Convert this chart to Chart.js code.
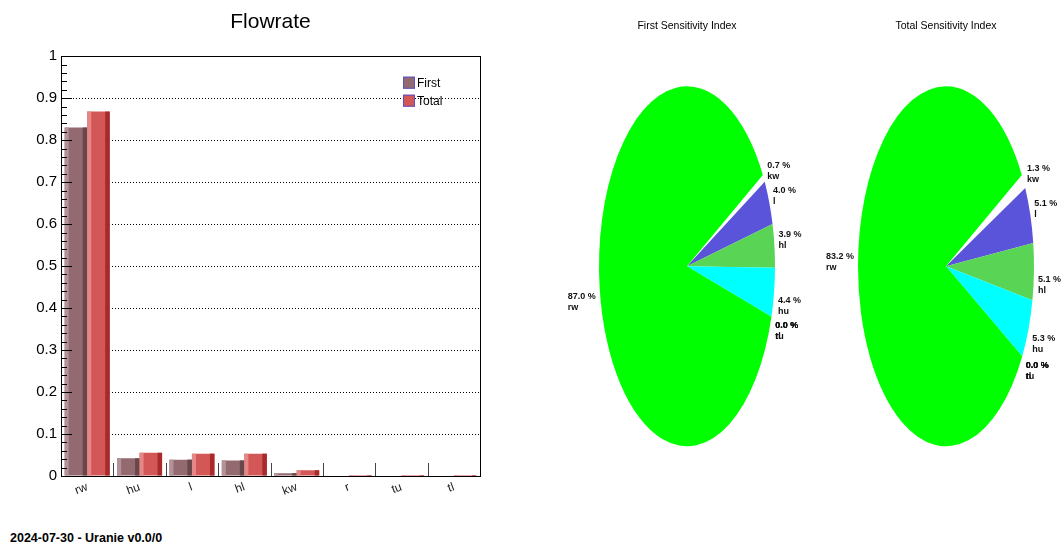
<!DOCTYPE html>
<html>
<head>
<meta charset="utf-8">
<script src="https://cdn.jsdelivr.net/npm/chart.js@4.4.0/dist/chart.umd.min.js"></script>
<style>
  body { margin: 0; width: 1064px; height: 544px; background: #fff; overflow: hidden; position: relative; }
  canvas { position: absolute; top: 0; }
  #bars { left: 0; }
  #pie1 { left: 537px; }
  #pie2 { left: 796px; }
  #stamp { position: absolute; left: 10px; top: 531px; font: bold 12.5px "Liberation Sans", Arial, sans-serif; color: #000; }
</style>
</head>
<body>
<canvas id="bars" width="541" height="506"></canvas>
<canvas id="pie1" width="300" height="500"></canvas>
<canvas id="pie2" width="300" height="500"></canvas>
<div id="stamp">2024-07-30 - Uranie v0.0/0</div>
<script>
// bar chart values (sensitivity indices)
var categories = ["rw", "hu", "l", "hl", "kw", "r", "tu", "tl"];
var firstIdx = [0.830, 0.042, 0.039, 0.037, 0.0067, 0, 0, 0];
var totalIdx = [0.868, 0.0553, 0.0532, 0.0532, 0.0136, 0, 0, 0];
var yTickValues = [0, 0.1, 0.2, 0.3, 0.4, 0.5, 0.6, 0.7, 0.8, 0.9, 1];

// pie slices, in drawing order
var pieLabels = ["kw", "l", "hl", "hu", "r", "tu", "tl", "rw"];
var firstPct = [0.7, 4.0, 3.9, 4.4, 0.0, 0.0, 0.0, 87.0];
var totalPct = [1.3, 5.1, 5.1, 5.3, 0.0, 0.0, 0.0, 83.2];
var pieColors = ["#fefefe", "#5954d9", "#59d454", "#00ffff", "#c2bfa8", "#4c4c4c", "#666666", "#00ff00"];
var pieOffset = [6, 0, 0, 0, 0, 0, 0, 0];

Chart.defaults.font.family = '"Liberation Sans", Arial, Helvetica, sans-serif';
Chart.defaults.color = "#000";

// light/dark side strips on the bars, like the ROOT 3D bars
var barShade = {
    id: "barShade",
    afterDatasetsDraw: function (chart) {
        var ctx = chart.ctx;
        chart.data.datasets.forEach(function (ds, di) {
            chart.getDatasetMeta(di).data.forEach(function (bar) {
                var p = bar.getProps(["x", "y", "base", "width"], true);
                var left = p.x - p.width / 2;
                var h = p.base - p.y;
                if (h <= 0) return;
                ctx.fillStyle = ds.lightColor;
                ctx.fillRect(left, p.y, p.width * 0.18, h);
                ctx.fillStyle = ds.darkColor;
                ctx.fillRect(left + p.width * 0.8, p.y, p.width * 0.2, h);
            });
        });
    }
};

// frame, inner ticks and legend
var frame = {
    id: "frame",
    afterDraw: function (chart) {
        var ctx = chart.ctx;
        var a = chart.chartArea;
        var ys = chart.scales.y, xs = chart.scales.x;
        ctx.save();
        ctx.strokeStyle = "#000";
        ctx.lineWidth = 1;
        ctx.strokeRect(Math.round(a.left) + 0.5, Math.round(a.top) + 0.5,
            Math.round(a.right - a.left), Math.round(a.bottom - a.top));

        ctx.beginPath();
        for (var i = 0; i <= 50; i++) {
            var py = Math.round(ys.getPixelForValue(i / 50)) + 0.5;
            var len = (i % 5 === 0) ? 11 : 6;
            ctx.moveTo(a.left, py);
            ctx.lineTo(a.left + len, py);
        }
        ctx.stroke();

        var half = (xs.getPixelForValue(1) - xs.getPixelForValue(0)) / 2;
        ctx.strokeStyle = "#444";
        ctx.beginPath();
        for (var j = 1; j < categories.length; j++) {
            var px = Math.round(xs.getPixelForValue(j) - half) + 0.5;
            ctx.moveTo(px, a.bottom);
            ctx.lineTo(px, a.bottom - 13);
        }
        ctx.stroke();

        // legend
        ctx.font = '12px "Liberation Sans", Arial, sans-serif';
        ctx.textBaseline = "middle";
        ctx.textAlign = "left";
        chart.data.datasets.forEach(function (ds, k) {
            var bx = a.right - 77, by = a.top + 20.5 + k * 18;
            ctx.fillStyle = ds.backgroundColor;
            ctx.fillRect(bx, by, 12, 12);
            ctx.strokeStyle = "#5a50c8";
            ctx.strokeRect(bx + 0.5, by + 0.5, 11, 11);
            ctx.fillStyle = "#000";
            ctx.fillText(ds.label, bx + 14, by + 7);
        });
        ctx.restore();
    }
};

new Chart(document.getElementById("bars"), {
    type: "bar",
    data: {
        labels: categories,
        datasets: [{
            label: "First",
            data: firstIdx,
            backgroundColor: "#946a71",
            lightColor: "#b3939a",
            darkColor: "#684649",
            borderWidth: 0,
            barPercentage: 1,
            categoryPercentage: 0.86
        }, {
            label: "Total",
            data: totalIdx,
            backgroundColor: "#d45757",
            lightColor: "#e68787",
            darkColor: "#a82a2a",
            borderWidth: 0,
            minBarLength: 1,
            barPercentage: 1,
            categoryPercentage: 0.86
        }]
    },
    options: {
        responsive: false,
        animation: false,
        events: [],
        layout: { padding: { left: 0, right: 61, top: 0, bottom: 0 } },
        scales: {
            x: {
                grid: { display: false },
                border: { display: false },
                ticks: {
                    font: { size: 12 },
                    color: "#222",
                    minRotation: 20,
                    maxRotation: 20,
                    padding: -4
                },
                afterFit: function (s) { s.height = 30; }
            },
            y: {
                min: 0,
                max: 1,
                afterBuildTicks: function (s) {
                    s.ticks = yTickValues.map(function (v) { return { value: v }; });
                },
                grid: { color: "#000", lineWidth: 1, drawTicks: false },
                border: { display: false, dash: [1, 2] },
                ticks: {
                    font: { size: 15 },
                    color: "#000",
                    padding: 4,
                    callback: function (v) { return String(Math.round(v * 10) / 10); }
                },
                afterFit: function (s) { s.width = 61; }
            }
        },
        plugins: {
            legend: { display: false },
            tooltip: { enabled: false },
            title: {
                display: true,
                fullSize: false,
                text: "Flowrate",
                font: { size: 21, weight: "normal" },
                color: "#000",
                padding: { top: 10, bottom: 21 }
            }
        }
    },
    plugins: [barShade, frame]
});

// stretch the pie into an ellipse, then write the percent labels
var ellipse = {
    id: "ellipse",
    beforeDatasetsDraw: function (chart, args, opts) {
        var arc = chart.getDatasetMeta(0).data[0];
        var ctx = chart.ctx;
        ctx.save();
        ctx.translate(arc.x, arc.y);
        ctx.scale(1, opts.stretch);
        ctx.translate(-arc.x, -arc.y);
    },
    afterDatasetsDraw: function (chart, args, opts) {
        var ctx = chart.ctx;
        ctx.restore();
        var ds = chart.data.datasets[0];
        var sum = ds.data.reduce(function (a, b) { return a + b; }, 0);
        ctx.save();
        ctx.font = 'bold 9px "Liberation Sans", Arial, sans-serif';
        ctx.fillStyle = "#111";
        ctx.textBaseline = "middle";
        ctx.textAlign = "left";
        chart.getDatasetMeta(0).data.forEach(function (el, i) {
            var p = el.getProps(["x", "y", "startAngle", "endAngle", "outerRadius"], true);
            var mid = (p.startAngle + p.endAngle) / 2;
            var c = Math.cos(mid), s = Math.sin(mid);
            var top = (ds.data[i] / sum * 100).toFixed(1) + " %";
            var name = chart.data.labels[i];
            var lx = p.x + (p.outerRadius + 4) * c;
            var ly = p.y + (p.outerRadius * opts.stretch + 4) * s + (s > 0.02 ? 13 : -5);
            if (c < 0) {
                lx -= Math.max(ctx.measureText(top).width, ctx.measureText(name).width);
            }
            ctx.fillText(top, lx, ly - 5.5);
            ctx.fillText(name, lx, ly + 5.5);
        });
        ctx.restore();
    }
};

function makePie(id, title, values) {
    return new Chart(document.getElementById(id), {
        type: "pie",
        data: {
            labels: pieLabels,
            datasets: [{
                data: values,
                backgroundColor: pieColors,
                borderWidth: 0,
                offset: pieOffset
            }]
        },
        options: {
            responsive: false,
            animation: false,
            events: [],
            rotation: 59.5,
            radius: 88,
            layout: { padding: 0 },
            plugins: {
                legend: { display: false },
                tooltip: { enabled: false },
                title: {
                    display: true,
                    text: title,
                    font: { size: 10.5, weight: "normal" },
                    color: "#000",
                    padding: { top: 20, bottom: 0 }
                },
                ellipse: { stretch: 2.045 }
            }
        },
        plugins: [ellipse]
    });
}

makePie("pie1", "First Sensitivity Index", firstPct);
makePie("pie2", "Total Sensitivity Index", totalPct);
</script>
</body>
</html>
